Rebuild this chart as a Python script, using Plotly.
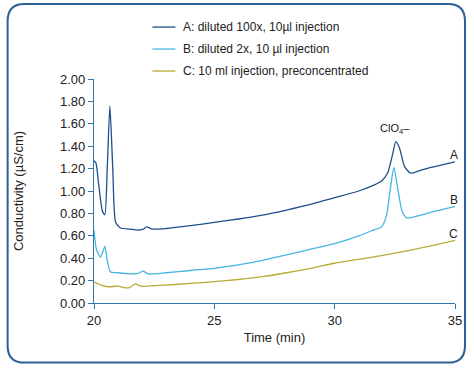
import plotly.graph_objects as go

# Series A: diluted 100x, 10 µl injection
a_time = [20, 20.08, 20.2, 20.35, 20.45, 20.55, 20.66, 20.78, 20.9, 21.1, 21.5, 21.8, 22.05, 22.2, 22.4,
          23, 24, 25, 26, 27, 28, 29, 30, 31, 31.6, 31.95, 32.2, 32.4, 32.54, 32.7, 32.9, 33.15, 33.5, 34, 34.5, 35]
a_cond = [1.27, 1.25, 1.05, 0.82, 0.79, 1.2, 1.76, 1.2, 0.72, 0.67, 0.66, 0.65, 0.66, 0.68, 0.66,
          0.665, 0.69, 0.72, 0.75, 0.785, 0.83, 0.88, 0.94, 1.0, 1.05, 1.09, 1.16, 1.32, 1.44, 1.38, 1.22, 1.16, 1.18, 1.21, 1.235, 1.26]

# Series B: diluted 2x, 10 µl injection
b_time = [20, 20.1, 20.27, 20.45, 20.55, 20.68, 21, 21.5, 21.85, 22.04, 22.25, 23, 24, 25, 26, 27, 28, 29, 30, 31,
          31.6, 31.95, 32.15, 32.3, 32.46, 32.6, 32.8, 33.0, 33.5, 34, 35]
b_cond = [0.65, 0.48, 0.41, 0.505, 0.38, 0.28, 0.27, 0.26, 0.265, 0.285, 0.26, 0.27, 0.29, 0.31, 0.34, 0.38, 0.43, 0.48, 0.53, 0.6,
          0.65, 0.68, 0.78, 1.0, 1.21, 1.05, 0.82, 0.76, 0.78, 0.81, 0.86]

# Series C: 10 ml injection, preconcentrated
c_time = [20, 20.3, 20.6, 21, 21.3, 21.5, 21.72, 21.95, 22.5, 23, 24, 25, 26, 27, 28, 29, 30, 31, 32, 33, 34, 35]
c_cond = [0.19, 0.16, 0.145, 0.15, 0.135, 0.14, 0.17, 0.15, 0.155, 0.16, 0.175, 0.19, 0.21, 0.235, 0.27, 0.31,
          0.355, 0.39, 0.425, 0.465, 0.51, 0.56]

legend_labels = ["A: diluted 100x, 10µl injection", "B: diluted 2x, 10 µl injection", "C: 10 ml injection, preconcentrated"]
end_labels = ["A", "B", "C"]
end_label_y = [1.32, 0.92, 0.62]
peak_label = "ClO<sub>4</sub>–"
peak_label_pos = (32.5, 1.55)

x_ticks = [20, 25, 30, 35]
y_ticks = [0, 0.2, 0.4, 0.6, 0.8, 1.0, 1.2, 1.4, 1.6, 1.8, 2.0]
y_ticktext = [f"{v:.2f}" for v in y_ticks]

colors = ["#1f4f8b", "#45b5e3", "#b9aa35"]
axis_color = "#2a76ad"
font_family = "Liberation Sans, Arial, sans-serif"

W, H = 474, 371
ml, mr, mt, mb = 93.5, 19, 79, 67.7
pw, ph = W - ml - mr, H - mt - mb

def px(x):
    return (x - ml) / pw

def py(y):
    return (H - mb - y) / ph

fig = go.Figure()
series = [(a_time, a_cond), (b_time, b_cond), (c_time, c_cond)]
for (t, c), col, name in zip(series, colors, legend_labels):
    fig.add_trace(go.Scatter(x=t, y=c, mode="lines", name=name,
                             line=dict(color=col, width=1.3, shape="spline", smoothing=0.6),
                             showlegend=False))

shapes = []
annotations = []
# manual legend
for i, (col, name) in enumerate(zip(colors, legend_labels)):
    ypx = 27 + i * 22
    shapes.append(dict(type="line", xref="paper", yref="paper", x0=px(152), x1=px(175),
                       y0=py(ypx), y1=py(ypx), line=dict(color=col, width=1.3)))
    annotations.append(dict(xref="paper", yref="paper", x=px(181), y=py(ypx), text=name,
                            showarrow=False, xanchor="left", yanchor="middle",
                            font=dict(size=12, color="#222", family=font_family)))

for lab, yv in zip(end_labels, end_label_y):
    annotations.append(dict(x=34.95, y=yv, xref="x", yref="y", text=lab, showarrow=False,
                            font=dict(size=12, color="#222", family=font_family)))
annotations.append(dict(x=peak_label_pos[0], y=peak_label_pos[1], xref="x", yref="y", text=peak_label,
                        showarrow=False, font=dict(size=11, color="#222", family=font_family)))

# rounded frame
x0, x1, y0, y1 = 7, 465, 4, 363
r = 17
rx, ry = r / pw, r / ph
L, R, T, B = px(x0), px(x1), py(y0), py(y1)
path = (f"M {L+rx},{T} L {R-rx},{T} Q {R},{T} {R},{T-ry} L {R},{B+ry} Q {R},{B} {R-rx},{B} "
        f"L {L+rx},{B} Q {L},{B} {L},{B+ry} L {L},{T-ry} Q {L},{T} {L+rx},{T} Z")
shapes.append(dict(type="path", xref="paper", yref="paper", path=path,
                   line=dict(color="#2c5f96", width=2)))

fig.update_layout(
    width=W, height=H,
    margin=dict(l=ml, r=mr, t=mt, b=mb),
    paper_bgcolor="white", plot_bgcolor="white",
    font=dict(family=font_family, size=13, color="#222"),
    shapes=shapes, annotations=annotations,
    xaxis=dict(range=[20, 35], tickvals=x_ticks, showgrid=False, zeroline=False,
               showline=True, linecolor=axis_color, linewidth=1.2,
               ticks="outside", ticklen=5, tickcolor=axis_color,
               title=dict(text="Time (min)", font=dict(size=13), standoff=6)),
    yaxis=dict(range=[0, 2], tickvals=y_ticks, ticktext=y_ticktext, showgrid=False, zeroline=False,
               showline=True, linecolor=axis_color, linewidth=1.2,
               ticks="outside", ticklen=5, tickcolor=axis_color,
               title=dict(text="Conductivity (µS/cm)", font=dict(size=13), standoff=33)),
)

fig.write_html("out.html", config={"displayModeBar": False},
               post_script="document.body.style.margin='0px';document.body.style.overflow='hidden';")
